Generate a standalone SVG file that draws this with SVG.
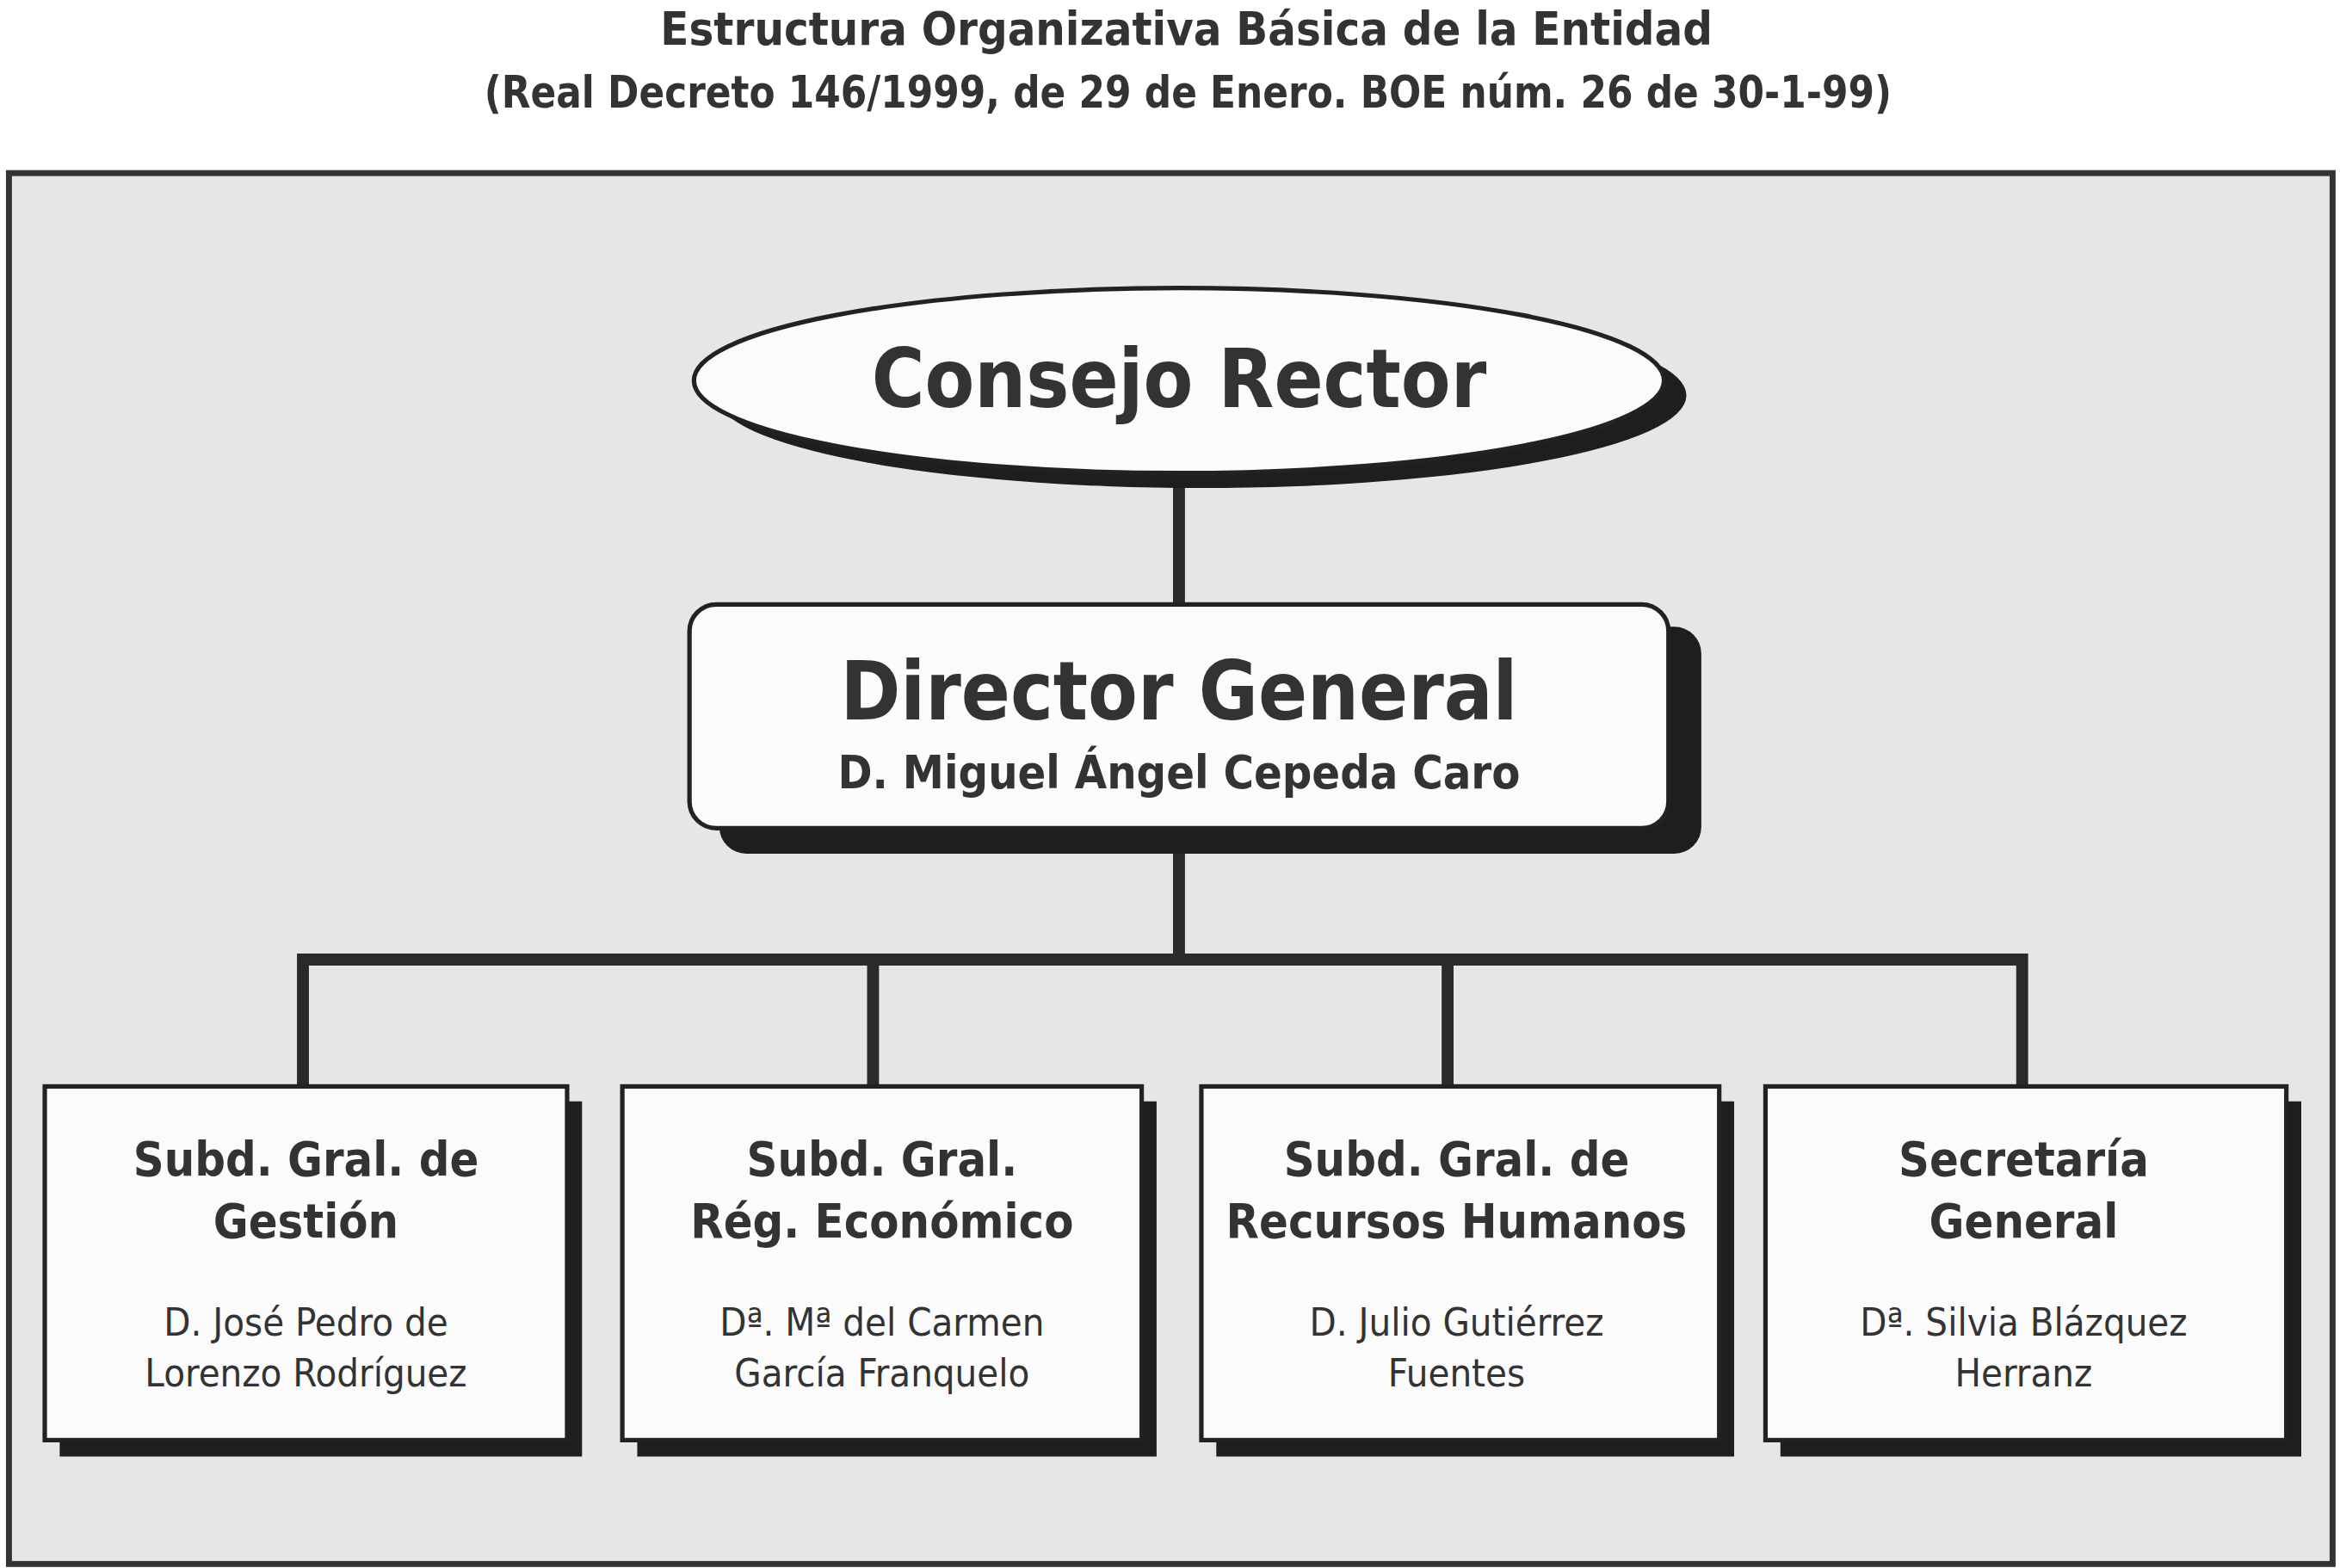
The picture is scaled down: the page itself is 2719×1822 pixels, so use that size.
<svg xmlns="http://www.w3.org/2000/svg" width="2719" height="1822" viewBox="0 0 2719 1822">
<style>
.t{font-family:"DejaVu Sans Condensed","DejaVu Sans",sans-serif;fill:#333;text-anchor:middle}
.h{font-weight:bold}
.sh{fill:#1e1e1e}
.bx{fill:#fbfbfb;stroke:#222;stroke-width:3}
.ln{stroke:#2a2a2a;stroke-width:8;fill:none}
</style>
<rect width="2719" height="1822" fill="#fff"/>
<g transform="scale(1.7341)">
<text class="t h" x="795" y="30" font-size="31" textLength="705" lengthAdjust="spacingAndGlyphs">Estructura Organizativa Básica de la Entidad</text>
<text class="t h" x="796" y="72" font-size="30" textLength="943" lengthAdjust="spacingAndGlyphs">(Real Decreto 146/1999, de 29 de Enero. BOE núm. 26 de 30-1-99)</text>
<rect x="6" y="116" width="1557" height="932" fill="#e6e6e6" stroke="#333" stroke-width="4"/>
<g id="connectors">
<path class="ln" d="M790 318V405M790 555V643M203 728V643H1355V728M585 643V728M970 643V728"/>
</g>
<g id="consejo">
<ellipse class="sh" cx="805" cy="265" rx="325" ry="62"/>
<ellipse class="bx" cx="790" cy="255" rx="325" ry="62"/>
<text class="t h" x="790" y="273" font-size="54">Consejo Rector</text>
</g>
<g id="director">
<rect class="sh" x="482" y="420" width="658" height="152" rx="18"/>
<rect class="bx" x="462" y="405" width="656" height="150" rx="18"/>
<text class="t h" x="790" y="482" font-size="54">Director General</text>
<text class="t h" x="790" y="528" font-size="31">D. Miguel Ángel Cepeda Caro</text>
</g>
<g id="n1">
<rect class="sh" x="40" y="738" width="350" height="238"/>
<rect class="bx" x="30" y="728" width="350" height="237"/>
<text class="t h" x="205" y="788" font-size="32">Subd. Gral. de</text>
<text class="t h" x="205" y="829" font-size="32">Gestión</text>
<text class="t" x="205" y="895" font-size="26">D. José Pedro de</text>
<text class="t" x="205" y="929" font-size="26">Lorenzo Rodríguez</text>
</g>
<g id="n2">
<rect class="sh" x="427" y="738" width="348" height="238"/>
<rect class="bx" x="417" y="728" width="348" height="237"/>
<text class="t h" x="591" y="788" font-size="32">Subd. Gral.</text>
<text class="t h" x="591" y="829" font-size="32">Rég. Económico</text>
<text class="t" x="591" y="895" font-size="26">Dª. Mª del Carmen</text>
<text class="t" x="591" y="929" font-size="26">García Franquelo</text>
</g>
<g id="n3">
<rect class="sh" x="815" y="738" width="347" height="238"/>
<rect class="bx" x="805" y="728" width="347" height="237"/>
<text class="t h" x="976" y="788" font-size="32">Subd. Gral. de</text>
<text class="t h" x="976" y="829" font-size="32">Recursos Humanos</text>
<text class="t" x="976" y="895" font-size="26">D. Julio Gutiérrez</text>
<text class="t" x="976" y="929" font-size="26">Fuentes</text>
</g>
<g id="n4">
<rect class="sh" x="1193" y="738" width="349" height="238"/>
<rect class="bx" x="1183" y="728" width="349" height="237"/>
<text class="t h" x="1356" y="788" font-size="32">Secretaría</text>
<text class="t h" x="1356" y="829" font-size="32">General</text>
<text class="t" x="1356" y="895" font-size="26">Dª. Silvia Blázquez</text>
<text class="t" x="1356" y="929" font-size="26">Herranz</text>
</g>
</g>
</svg>
